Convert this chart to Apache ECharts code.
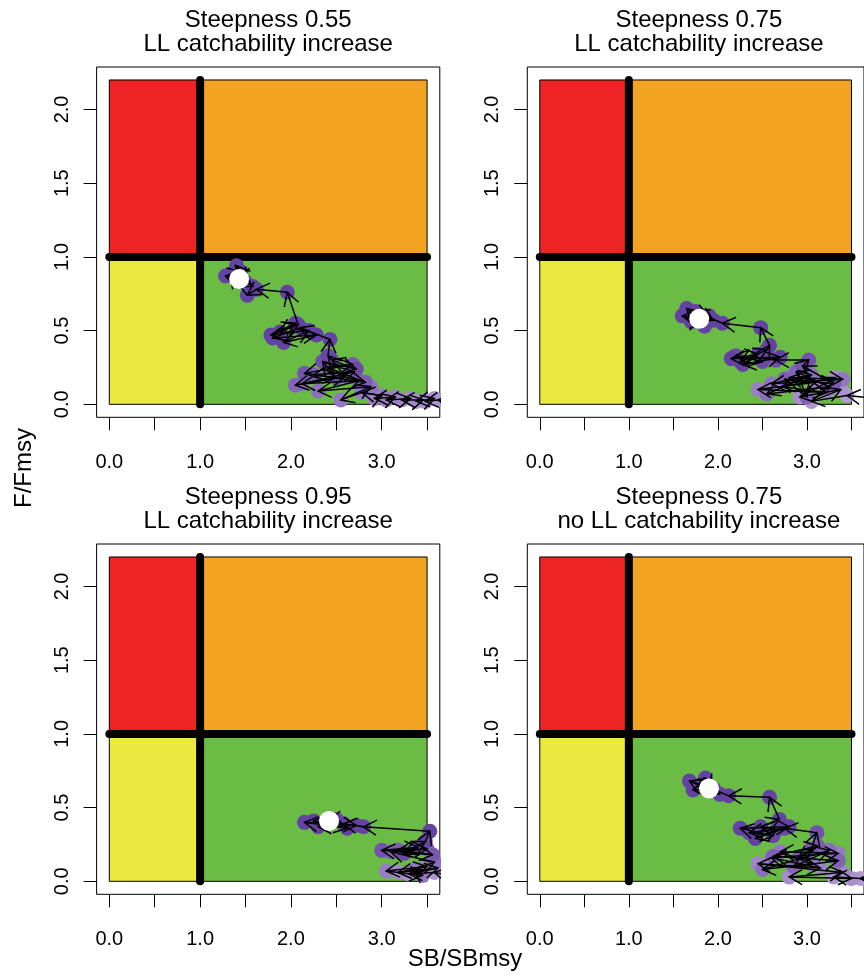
<!DOCTYPE html>
<html>
<head>
<meta charset="utf-8">
<script src="https://cdn.jsdelivr.net/npm/echarts@6/dist/echarts.min.js"></script>
<style>
  html, body { margin: 0; padding: 0; background: #fff; }
  #chart { width: 864px; height: 976px; }
</style>
</head>
<body>
<div id="chart"></div>
<script>
// judul panel
const titleLine1 = ['Steepness 0.55', 'Steepness 0.75', 'Steepness 0.95', 'Steepness 0.75'];
const titleLine2 = ['LL catchability increase', 'LL catchability increase', 'LL catchability increase', 'no LL catchability increase'];

// sumbu
const xTickVals = [0, 0.5, 1, 1.5, 2, 2.5, 3, 3.5];
const xLabelVals = [0, 1, 2, 3];
const yTickVals = [0, 0.5, 1, 1.5, 2];

// batas zona kobe
const zoneX = [0, 1, 3.5];
const zoneY = [0, 1, 2.2];

// lintasan SB/SBmsy dan F/Fmsy (urut waktu, titik terakhir = kondisi terkini)
const sb055 = [3.78, 3.62, 3.48, 3.58, 3.38, 3.46, 3.22, 3.32, 3.05, 3.15, 2.92, 3.0, 2.78, 2.55, 2.88, 2.3, 2.75, 2.12, 2.6, 2.05, 2.7, 2.25, 2.82, 2.4, 2.68, 2.15, 2.5, 2.35, 2.72, 2.45, 2.41, 2.43, 2.1, 1.8, 2.28, 1.92, 2.2, 1.78, 2.05, 1.88, 2.08, 1.96, 1.62, 1.52, 1.33, 1.58, 1.4, 1.5, 1.28, 1.45, 1.43];
const f055 = [0.02, 0.03, 0.02, 0.04, 0.02, 0.03, 0.03, 0.04, 0.03, 0.05, 0.04, 0.06, 0.08, 0.03, 0.12, 0.09, 0.16, 0.14, 0.19, 0.13, 0.22, 0.2, 0.15, 0.25, 0.27, 0.21, 0.18, 0.29, 0.24, 0.3, 0.33, 0.44, 0.52, 0.45, 0.47, 0.42, 0.5, 0.47, 0.55, 0.49, 0.54, 0.76, 0.78, 0.74, 0.88, 0.8, 0.94, 0.83, 0.87, 0.9, 0.85];

const sb075 = [3.9, 3.45, 3.05, 3.38, 2.92, 3.32, 2.72, 3.22, 2.45, 3.1, 2.8, 3.4, 2.6, 3.05, 2.55, 3.25, 2.88, 3.0, 2.75, 3.3, 2.95, 3.02, 2.65, 2.2, 2.5, 2.28, 2.7, 2.15, 2.45, 2.25, 2.55, 2.58, 2.48, 2.05, 1.75, 1.95, 1.6, 1.85, 1.65, 1.9, 1.7, 1.79];
const f075 = [0.03, 0.06, 0.02, 0.1, 0.05, 0.18, 0.12, 0.08, 0.1, 0.15, 0.18, 0.17, 0.14, 0.2, 0.07, 0.12, 0.22, 0.05, 0.17, 0.14, 0.26, 0.3, 0.3, 0.33, 0.29, 0.27, 0.32, 0.31, 0.34, 0.29, 0.37, 0.4, 0.52, 0.55, 0.63, 0.57, 0.6, 0.53, 0.65, 0.6, 0.56, 0.58];

const sb095 = [3.85, 3.58, 3.3, 3.62, 3.18, 3.5, 3.05, 3.45, 3.35, 3.58, 3.1, 3.5, 3.18, 3.56, 3.0, 3.4, 3.25, 3.48, 3.53, 2.8, 2.58, 2.25, 2.62, 2.15, 2.72, 2.3, 2.5, 2.42];
const f095 = [0.03, 0.06, 0.05, 0.09, 0.06, 0.1, 0.07, 0.04, 0.08, 0.13, 0.2, 0.22, 0.21, 0.18, 0.21, 0.23, 0.19, 0.27, 0.34, 0.37, 0.39, 0.41, 0.36, 0.4, 0.38, 0.37, 0.42, 0.41];

const sb075noq = [3.9, 3.6, 3.3, 3.5, 2.8, 3.4, 2.45, 3.15, 2.6, 3.35, 2.7, 3.05, 2.5, 3.25, 2.85, 3.35, 2.62, 3.12, 2.9, 3.05, 3.11, 2.75, 2.35, 2.62, 2.25, 2.8, 2.42, 2.66, 2.48, 2.69, 2.58, 2.12, 1.82, 2.02, 1.68, 1.95, 1.72, 1.86, 1.9];
const f075noq = [0.01, 0.02, 0.03, 0.02, 0.03, 0.06, 0.12, 0.09, 0.16, 0.19, 0.2, 0.12, 0.08, 0.21, 0.1, 0.14, 0.17, 0.24, 0.15, 0.22, 0.33, 0.36, 0.33, 0.31, 0.36, 0.37, 0.29, 0.35, 0.37, 0.42, 0.57, 0.58, 0.66, 0.59, 0.68, 0.63, 0.62, 0.7, 0.63];

const trajSB = [sb055, sb075, sb095, sb075noq];
const trajF = [f055, f075, f095, f075noq];

// tata letak
const FONT = '"Liberation Sans", Arial, sans-serif';
const panelLeft = [96.6, 527.3, 96.6, 527.3];
const panelTop = [67, 67, 544, 544];
const panelW = 343.2;
const panelH = 350.3;

const zoneColors = { yellow: '#ECE93E', red: '#EE2324', orange: '#F3A322', green: '#6ABC45' };

function pointColor(i, n) {
    const light = [180, 156, 212];
    const dark = [100, 66, 164];
    const t = Math.min(1, i / (n * 0.62));
    const c = light.map((v, k) => Math.round(v + (dark[k] - v) * t));
    return 'rgb(' + c.join(',') + ')';
}

const grids = [], xAxes = [], yAxes = [], series = [], graphics = [];

for (let p = 0; p < 4; p++) {
    grids.push({
        left: panelLeft[p], top: panelTop[p], width: panelW, height: panelH,
        show: true, borderColor: '#000', borderWidth: 1, backgroundColor: 'transparent'
    });
    xAxes.push({
        type: 'value', gridIndex: p, min: -0.14, max: 3.64,
        axisLine: { show: false, onZero: false }, splitLine: { show: false },
        axisTick: { show: true, length: 13, customValues: xTickVals, lineStyle: { color: '#000', width: 1 } },
        axisLabel: { customValues: xLabelVals, formatter: v => v.toFixed(1), fontSize: 20, color: '#000', margin: 35, fontFamily: FONT }
    });
    yAxes.push({
        type: 'value', gridIndex: p, min: -0.088, max: 2.288,
        axisLine: { show: false, onZero: false }, splitLine: { show: false },
        axisTick: { show: true, length: 13, customValues: yTickVals, lineStyle: { color: '#000', width: 1 } },
        axisLabel: { customValues: yTickVals, formatter: v => v.toFixed(1), fontSize: 20, color: '#000', margin: 24.5, rotate: 90, fontFamily: FONT }
    });

    // zona kobe
    const zones = [
        [zoneX[0], zoneY[0], zoneX[1], zoneY[1], zoneColors.yellow],
        [zoneX[0], zoneY[1], zoneX[1], zoneY[2], zoneColors.red],
        [zoneX[1], zoneY[1], zoneX[2], zoneY[2], zoneColors.orange],
        [zoneX[1], zoneY[0], zoneX[2], zoneY[1], zoneColors.green]
    ];
    series.push({
        type: 'custom', xAxisIndex: p, yAxisIndex: p, z: 1, silent: true, animation: false,
        data: zones.map(z => z.slice(0, 4)),
        renderItem: function (params, api) {
            const a = api.coord([api.value(0), api.value(3)]);
            const b = api.coord([api.value(2), api.value(1)]);
            return {
                type: 'rect',
                shape: { x: a[0], y: a[1], width: b[0] - a[0], height: b[1] - a[1] },
                style: { fill: zones[params.dataIndex][4], stroke: '#000', lineWidth: 1 }
            };
        }
    });

    // garis referensi tebal
    series.push({
        type: 'custom', xAxisIndex: p, yAxisIndex: p, z: 2, silent: true, animation: false,
        data: [[zoneX[1], zoneY[0], zoneX[1], zoneY[2]], [zoneX[0], zoneY[1], zoneX[2], zoneY[1]]],
        renderItem: function (params, api) {
            const a = api.coord([api.value(0), api.value(1)]);
            const b = api.coord([api.value(2), api.value(3)]);
            return {
                type: 'line',
                shape: { x1: a[0], y1: a[1], x2: b[0], y2: b[1] },
                style: { stroke: '#000', lineWidth: 8, lineCap: 'round' }
            };
        }
    });

    const sb = trajSB[p], f = trajF[p], n = sb.length;

    // titik lintasan
    series.push({
        type: 'custom', xAxisIndex: p, yAxisIndex: p, z: 3, clip: true, silent: true, animation: false,
        data: sb.map((v, i) => [v, f[i]]),
        renderItem: function (params, api) {
            const c = api.coord([api.value(0), api.value(1)]);
            return {
                type: 'circle',
                shape: { cx: c[0], cy: c[1], r: 7.5 },
                style: { fill: pointColor(params.dataIndex, n) }
            };
        }
    });

    // panah antar titik
    const segs = [];
    for (let i = 0; i < n - 1; i++) segs.push([sb[i], f[i], sb[i + 1], f[i + 1]]);
    series.push({
        type: 'custom', xAxisIndex: p, yAxisIndex: p, z: 4, clip: true, silent: true, animation: false,
        data: segs,
        renderItem: function (params, api) {
            const a = api.coord([api.value(0), api.value(1)]);
            const b = api.coord([api.value(2), api.value(3)]);
            const ang = Math.atan2(b[1] - a[1], b[0] - a[0]);
            const L = 15, th = Math.PI / 6;
            const h1 = [b[0] - L * Math.cos(ang - th), b[1] - L * Math.sin(ang - th)];
            const h2 = [b[0] - L * Math.cos(ang + th), b[1] - L * Math.sin(ang + th)];
            return {
                type: 'group',
                children: [
                    { type: 'line', shape: { x1: a[0], y1: a[1], x2: b[0], y2: b[1] }, style: { stroke: '#000', lineWidth: 1.5 } },
                    { type: 'polyline', shape: { points: [h1, b, h2] }, style: { stroke: '#000', lineWidth: 1.5, fill: null } }
                ]
            };
        }
    });

    // posisi terakhir
    series.push({
        type: 'custom', xAxisIndex: p, yAxisIndex: p, z: 5, clip: true, silent: true, animation: false,
        data: [[sb[n - 1], f[n - 1]]],
        renderItem: function (params, api) {
            const c = api.coord([api.value(0), api.value(1)]);
            return { type: 'circle', shape: { cx: c[0], cy: c[1], r: 10 }, style: { fill: '#fff' } };
        }
    });

    // judul
    const cx = panelLeft[p] + panelW / 2;
    const ty = p < 2 ? 20 : 497;
    graphics.push({ type: 'text', x: cx, y: ty, style: { text: titleLine1[p], fontSize: 24, fontFamily: FONT, fill: '#000', textAlign: 'center', textVerticalAlign: 'middle' } });
    graphics.push({ type: 'text', x: cx, y: ty + 24.5, style: { text: titleLine2[p], fontSize: 24, fontFamily: FONT, fill: '#000', textAlign: 'center', textVerticalAlign: 'middle' } });
}

// label sumbu
graphics.push({ type: 'text', x: 24, y: 468, rotation: Math.PI / 2, style: { text: 'F/Fmsy', fontSize: 24, fontFamily: FONT, fill: '#000', textAlign: 'center', textVerticalAlign: 'middle' } });
graphics.push({ type: 'text', x: 465, y: 959, style: { text: 'SB/SBmsy', fontSize: 24, fontFamily: FONT, fill: '#000', textAlign: 'center', textVerticalAlign: 'middle' } });

const chart = echarts.init(document.getElementById('chart'), null, { renderer: 'canvas' });
chart.setOption({
    animation: false,
    backgroundColor: '#fff',
    grid: grids,
    xAxis: xAxes,
    yAxis: yAxes,
    series: series,
    graphic: graphics
});
</script>
</body>
</html>
